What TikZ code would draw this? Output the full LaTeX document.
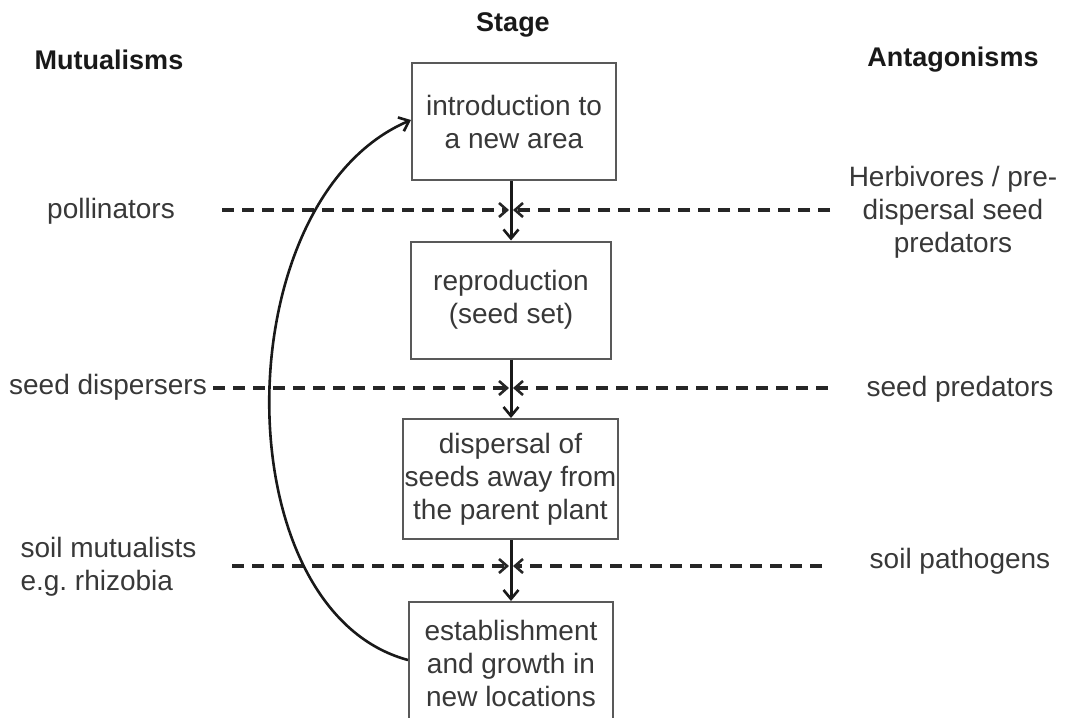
\documentclass[tikz,border=0pt]{standalone}
\usepackage{fontspec}
\setmainfont{Liberation Sans}
\usetikzlibrary{arrows.meta}
\begin{document}
\frenchspacing
\begin{tikzpicture}[x=1pt,y=-1pt,
  every node/.style={font=\fontsize{28}{33}\selectfont, text=black!78},
  stagebox/.style={draw=black!65, line width=2pt, fill=white, align=center, inner sep=0pt},
  head/.style={font=\fontsize{27}{32}\selectfont\bfseries, text=black!90},
  lbl/.style={align=center},
  flow/.style={line width=3pt, black!90, -{Straight Barb[length=9pt,width=15pt,line width=2.6pt]}},
  infl/.style={line width=3.4pt, dash pattern=on 12pt off 8pt, black!85, -{Straight Barb[length=8pt,width=14pt,line width=2.6pt]}}
]
\useasboundingbox (0,0) rectangle (1072,718);
\begin{scope}
\clip (0,0) rectangle (1072,718);
% stage boxes
\node[stagebox, minimum width=204pt, minimum height=117pt] (b1) at (514,121.5) {introduction to\\a new area};
\node[stagebox, minimum width=200pt, minimum height=117pt] (b2) at (511,300) {reproduction\\(seed set)};
\node[stagebox, minimum width=215pt, minimum height=120pt] (b3) at (510.5,479) {dispersal of\\seeds away from\\the parent plant};
\node[stagebox, minimum width=204pt, minimum height=122pt, anchor=north] (b4) at (511,601) {establishment\\and growth in\\new locations};
% headings
\node[head] (stage) at (513,25) {Stage};
\node[head] (mut) at (109,60) {Mutualisms};
\node[head] (ant) at (953,60) {Antagonisms};
% side labels
\node[lbl] (poll) at (111,211) {pollinators};
\node[lbl] (herb) at (953,212) {Herbivores / pre-\\dispersal seed\\predators};
\node[lbl] (sdisp) at (108,387) {seed dispersers};
\node[lbl] (spred) at (960,389) {seed predators};
\node[align=left, anchor=west] (smut) at (17,567) {soil mutualists\\e.g. rhizobia};
\node[lbl] (spath) at (960,561) {soil pathogens};
% meeting points on the flow arrows
\coordinate (m1) at (511,210);
\coordinate (m2) at (511,388);
\coordinate (m3) at (511,566);
% dashed line starts
\coordinate (l1) at (222,210);
\coordinate (r1) at (830,210);
\coordinate (l2) at (213,388);
\coordinate (r2) at (828,388);
\coordinate (l3) at (232,566);
\coordinate (r3) at (822,566);
% flow arrows
\draw[flow] (b1.south -| m1) -- (b2.north -| m1);
\draw[flow] (b2.south -| m2) -- (b3.north -| m2);
\draw[flow] (b3.south -| m3) -- (b4.north -| m3);
% dashed influences
\draw[infl] (l1) -- ([xshift=-2pt]m1);
\draw[infl] (r1) -- ([xshift=2pt]m1);
\draw[infl] (l2) -- ([xshift=-2pt]m2);
\draw[infl] (r2) -- ([xshift=2pt]m2);
\draw[infl] (l3) -- ([xshift=-2pt]m3);
\draw[infl] (r3) -- ([xshift=2pt]m3);
% loop back
\draw[flow, line width=2.6pt] (b4.west |- 0,660) .. controls (222,610) and (224,200) .. (b1.west |- 0,120);
\end{scope}
\end{tikzpicture}
\end{document}
